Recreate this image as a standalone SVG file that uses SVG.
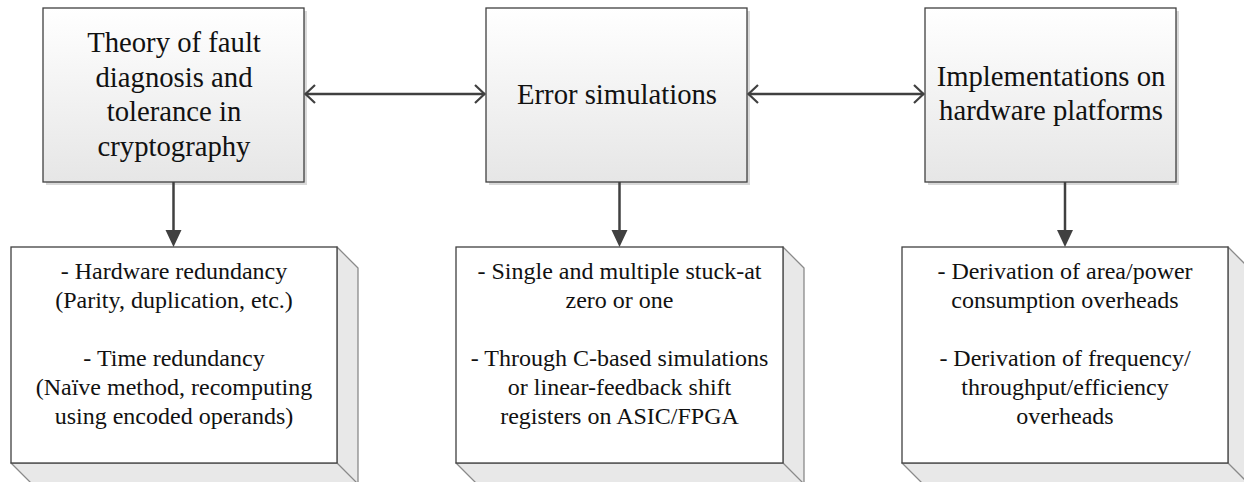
<svg xmlns="http://www.w3.org/2000/svg" width="1244" height="482" viewBox="0 0 1244 482">
<style>
  .tb { font-family: "Liberation Serif", "Times New Roman", serif; font-size: 28.7px; fill: #111; text-anchor: middle; }
  .ts { font-family: "Liberation Serif", "Times New Roman", serif; font-size: 24px; fill: #111; text-anchor: middle; }
  .box { fill: url(#g); stroke: #404040; stroke-width: 1.3; }
  .shadow { fill: #d9d9d9; }
  .front { fill: #ffffff; stroke: #404040; stroke-width: 1.3; }
  .depth { fill: #e8e8e8; stroke: #8a8a8a; stroke-width: 1.3; stroke-linejoin: round; }
  .conn { stroke: #404040; stroke-width: 2.5; fill: none; }
  .chev { stroke: #404040; stroke-width: 2.2; fill: none; }
  .head { fill: #404040; }
</style>
<defs>
  <linearGradient id="g" x1="0" y1="0" x2="0" y2="1">
    <stop offset="0" stop-color="#ffffff"/>
    <stop offset="1" stop-color="#e6e6e6"/>
  </linearGradient>
</defs>

<g id="node-theory">
  <rect class="shadow" x="46" y="11" width="261" height="174"/>
  <rect class="box" x="43" y="8" width="261" height="174"/>
  <text class="tb" x="174" y="52">Theory of fault</text>
  <text class="tb" x="174" y="86.5">diagnosis and</text>
  <text class="tb" x="174" y="121">tolerance in</text>
  <text class="tb" x="174" y="155.5">cryptography</text>
</g>

<g id="node-error">
  <rect class="shadow" x="489" y="11" width="261" height="174"/>
  <rect class="box" x="486" y="8" width="261" height="174"/>
  <text class="tb" x="617" y="104">Error simulations</text>
</g>

<g id="node-impl">
  <rect class="shadow" x="928" y="11" width="251" height="174"/>
  <rect class="box" x="925" y="8" width="251" height="174"/>
  <text class="tb" x="1051" y="86">Implementations on</text>
  <text class="tb" x="1051" y="120">hardware platforms</text>
</g>

<g id="node-redundancy">
  <polygon class="depth" points="337,247 358,268 358,490 337,469"/>
  <polygon class="depth" points="11,463 337,463 358,484 32,484"/>
  <rect class="front" x="11" y="247" width="326" height="216"/>
  <text class="ts" x="174" y="279">- Hardware redundancy</text>
  <text class="ts" x="174" y="308">(Parity, duplication, etc.)</text>
  <text class="ts" x="174" y="366">- Time redundancy</text>
  <text class="ts" x="174" y="395">(Naïve method, recomputing</text>
  <text class="ts" x="174" y="424">using encoded operands)</text>
</g>

<g id="node-stuck">
  <polygon class="depth" points="783,247 804,268 804,490 783,469"/>
  <polygon class="depth" points="456,463 783,463 804,484 477,484"/>
  <rect class="front" x="456" y="247" width="327" height="216"/>
  <text class="ts" x="619.5" y="279">- Single and multiple stuck-at</text>
  <text class="ts" x="619.5" y="308">zero or one</text>
  <text class="ts" x="619.5" y="366">- Through C-based simulations</text>
  <text class="ts" x="619.5" y="395">or linear-feedback shift</text>
  <text class="ts" x="619.5" y="424">registers on ASIC/FPGA</text>
</g>

<g id="node-overheads">
  <polygon class="depth" points="1228,247 1249,268 1249,490 1228,469"/>
  <polygon class="depth" points="902,463 1228,463 1249,484 923,484"/>
  <rect class="front" x="902" y="247" width="326" height="216"/>
  <text class="ts" x="1065" y="279">- Derivation of area/power</text>
  <text class="ts" x="1065" y="308">consumption overheads</text>
  <text class="ts" x="1065" y="366">- Derivation of frequency/</text>
  <text class="ts" x="1065" y="395">throughput/efficiency</text>
  <text class="ts" x="1065" y="424">overheads</text>
</g>

<g id="connectors">
  <line class="conn" x1="305" y1="94" x2="485" y2="94"/>
  <polyline class="chev" points="315,85 305.5,94 315,103"/>
  <polyline class="chev" points="475,85 484.5,94 475,103"/>

  <line class="conn" x1="748" y1="94" x2="924" y2="94"/>
  <polyline class="chev" points="758,85 748.5,94 758,103"/>
  <polyline class="chev" points="914,85 923.5,94 914,103"/>

  <line class="conn" x1="173.5" y1="182" x2="173.5" y2="232"/>
  <polygon class="head" points="165.5,230 181.5,230 173.5,247"/>

  <line class="conn" x1="619.5" y1="182" x2="619.5" y2="232"/>
  <polygon class="head" points="611.5,230 627.5,230 619.5,247"/>

  <line class="conn" x1="1065" y1="182" x2="1065" y2="232"/>
  <polygon class="head" points="1057,230 1073,230 1065,247"/>
</g>
</svg>
